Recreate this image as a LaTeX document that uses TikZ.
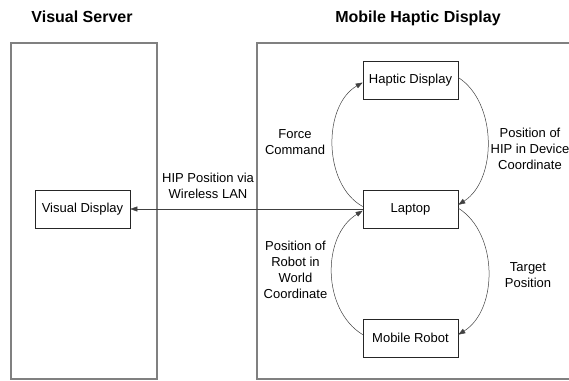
\documentclass[tikz,border=0pt]{standalone}
\usepackage{fontspec}
\setmainfont{Liberation Sans}
\usetikzlibrary{arrows.meta}
\begin{document}
\begin{tikzpicture}[x=1pt,y=-1pt,
  panel/.style={draw=black!50, line width=1.1pt, inner sep=0pt},
  unit/.style={draw=black!85, line width=0.6pt, minimum width=95pt, minimum height=38pt,
    inner sep=0pt, font=\fontsize{13}{16}\selectfont},
  caption/.style={font=\fontsize{13}{15.8}\selectfont, align=center, inner sep=0pt, anchor=north},
  heading/.style={font=\bfseries\fontsize{16}{19}\selectfont, anchor=base, inner sep=0pt},
  flow/.style={draw=black!75, line width=0.5pt, -{Triangle[length=7pt,width=5pt]}}]
\useasboundingbox (0,0) rectangle (569,380);

% the two system panels
\node[panel, minimum width=146pt, minimum height=336pt] (server) at (84,211) {};
\node[panel, minimum width=320pt, minimum height=336pt] (mobile) at (417,211) {};
\node[heading] (tserver) at (82,22.5) {Visual Server};
\node[heading] (tmobile) at (418,22.5) {Mobile Haptic Display};

% components
\node[unit] (vd)  at (82.5,209)  {Visual Display};
\node[unit] (hap) at (410.5,80)  {Haptic Display};
\node[unit] (lap) at (410.5,209) {Laptop};
\node[unit] (rob) at (410.5,338) {Mobile Robot};

% data flows
\draw[flow] (lap.west) -- (vd.east);
\draw[flow] (lap.177) .. controls +(-40,-22) and +(-40,23) .. (hap.183);
\draw[flow] (hap.3) .. controls +(39,25) and +(39,-25) .. (lap.5);
\draw[flow] (rob.176) .. controls +(-41,-25) and +(-41,25) .. (lap.182);
\draw[flow] (lap.1) .. controls +(40,25) and +(40,-25) .. (rob.4);

% flow labels
\node[caption] (wlan)   at (208,172.8)   {HIP Position via\\Wireless LAN};
\node[caption] (force)  at (295,129.8)   {Force\\Command};
\node[caption] (hipdev) at (530,128.3)   {Position of\\HIP in Device\\Coordinate};
\node[caption] (robpos) at (295.5,241.3) {Position of\\Robot in\\World\\Coordinate};
\node[caption] (target) at (528,262.3)   {Target\\Position};
\end{tikzpicture}
\end{document}
